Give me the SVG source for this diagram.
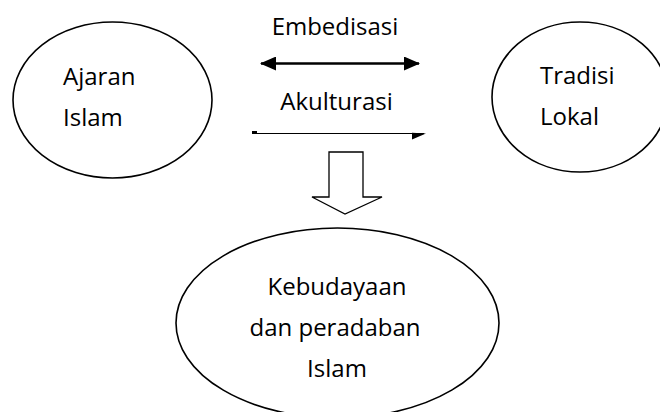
<svg xmlns="http://www.w3.org/2000/svg" width="660" height="412" viewBox="0 0 660 412">
<style>
.n{fill:#fff;stroke:#000;stroke-width:1.6}
.t{font-family:"Open Sans","Liberation Sans",sans-serif;font-size:24px;fill:#000}
.c{text-anchor:middle}
</style>
<defs>
<marker id="ah" viewBox="0 0 16 14" refX="15" refY="7" markerWidth="16" markerHeight="14" markerUnits="userSpaceOnUse" orient="auto-start-reverse">
<path d="M0,0 L16,7 L0,14 Z" fill="#000"/>
</marker>
</defs>
<rect width="660" height="412" fill="#fff"/>
<g id="ajaran-islam">
<ellipse class="n" cx="112.5" cy="100" rx="99.5" ry="78"/>
<text class="t" x="63" y="85">Ajaran</text>
<text class="t" x="63" y="126">Islam</text>
</g>
<g id="tradisi-lokal">
<ellipse class="n" cx="580" cy="97" rx="88" ry="75"/>
<text class="t" x="540" y="84">Tradisi</text>
<text class="t" x="540" y="125">Lokal</text>
</g>
<g id="kebudayaan">
<ellipse class="n" cx="337.5" cy="323" rx="161.5" ry="95"/>
<text class="t c" x="337" y="295">Kebudayaan</text>
<text class="t c" x="335" y="336">dan peradaban</text>
<text class="t c" x="337" y="377">Islam</text>
</g>
<g id="connectors">
<text class="t c" x="335" y="35">Embedisasi</text>
<line x1="261" y1="63.5" x2="419" y2="63.5" stroke="#000" stroke-width="2.6" marker-start="url(#ah)" marker-end="url(#ah)"/>
<text class="t c" x="336.5" y="110">Akulturasi</text>
<line x1="252" y1="133.5" x2="424" y2="133.5" stroke="#000" stroke-width="1.2"/>
<rect x="252" y="131" width="5" height="2.5" fill="#000"/>
<polygon points="412,132.8 426,133.5 412,139.5" fill="#000"/>
<polygon points="329,152 363,152 363,197 382,197 345,214 312,197 329,197" fill="#fff" stroke="#000" stroke-width="1.3"/>
</g>
</svg>
